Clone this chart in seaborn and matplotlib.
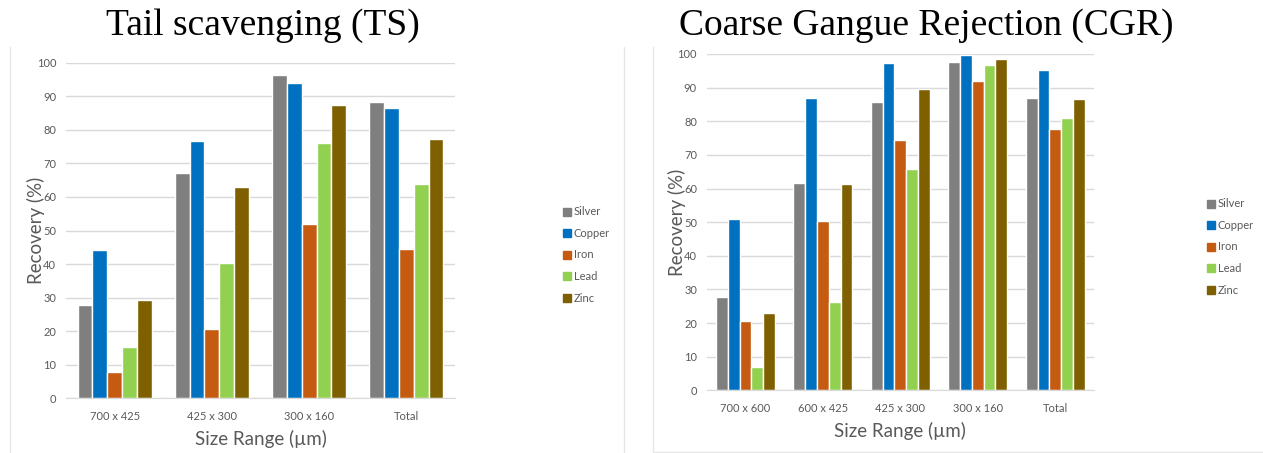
import numpy as np
import pandas as pd
import matplotlib
matplotlib.use('Agg')
import matplotlib.pyplot as plt
from matplotlib.lines import Line2D
import seaborn as sns

metals = ['Silver', 'Copper', 'Iron', 'Lead', 'Zinc']
colors = ['#7F7F7F', '#0070C0', '#C55A11', '#92D050', '#7F6000']

ts_sizes = ['700 x 425', '425 x 300', '300 x 160', 'Total']
ts_silver = [27.7, 67.1, 96.2, 88.2]
ts_copper = [44.2, 76.8, 94.1, 86.5]
ts_iron = [7.7, 20.6, 51.9, 44.5]
ts_lead = [15.2, 40.3, 76.2, 64.0]
ts_zinc = [29.4, 62.9, 87.3, 77.4]

cgr_sizes = ['700 x 600', '600 x 425', '425 x 300', '300 x 160', 'Total']
cgr_silver = [27.7, 61.5, 85.7, 97.6, 87.0]
cgr_copper = [51.0, 86.8, 97.2, 99.6, 95.2]
cgr_iron = [20.7, 50.2, 74.5, 91.9, 77.6]
cgr_lead = [6.8, 26.3, 65.9, 96.7, 81.0]
cgr_zinc = [22.9, 61.3, 89.6, 98.6, 86.7]


def to_long(sizes, series):
    rows = []
    for metal, vals in zip(metals, series):
        for s, v in zip(sizes, vals):
            rows.append({'size': s, 'metal': metal, 'recovery': v})
    return pd.DataFrame(rows)


ts_df = to_long(ts_sizes, [ts_silver, ts_copper, ts_iron, ts_lead, ts_zinc])
cgr_df = to_long(cgr_sizes, [cgr_silver, cgr_copper, cgr_iron, cgr_lead, cgr_zinc])

sns.set_style('white')
plt.rcParams['font.family'] = ['Lato', 'DejaVu Sans']

W, H = 1263, 453
fig = plt.figure(figsize=(W / 100, H / 100), dpi=100)


def px_axes(x0, x1, ytop, ybot):
    return fig.add_axes([x0 / W, 1 - ybot / H, (x1 - x0) / W, (ybot - ytop) / H])


text_gray = '#595959'
grid_gray = '#D9D9D9'


def draw(ax, df, sizes, leg_x, leg_y):
    sns.barplot(data=df, x='size', y='recovery', hue='metal', order=sizes,
                hue_order=metals, palette=colors, saturation=1, width=0.76,
                edgecolor='white', linewidth=1.0, ax=ax, legend=False)
    ax.set_ylim(0, 100)
    ax.set_xlim(-0.5, len(sizes) - 0.5)
    ax.set_yticks(np.arange(0, 101, 10))
    ax.yaxis.grid(True, color=grid_gray, linewidth=1)
    ax.set_axisbelow(True)
    for s in ['top', 'right', 'left']:
        ax.spines[s].set_visible(False)
    ax.spines['bottom'].set_color(grid_gray)
    ax.tick_params(axis='both', length=0, labelsize=8, labelcolor=text_gray)
    ax.tick_params(axis='x', pad=9)
    ax.tick_params(axis='y', pad=7)
    ax.set_xlabel('Size Range (µm)', fontsize=13.5, color=text_gray, labelpad=6)
    ax.set_ylabel('Recovery (%)', fontsize=13.5, color=text_gray, labelpad=-6)
    handles = [Line2D([0], [0], marker='s', linestyle='', markersize=6,
                      markerfacecolor=c, markeredgecolor=c) for c in colors]
    ax.legend(handles, metals, loc='center left',
              bbox_to_anchor=(leg_x / W, 1 - leg_y / H),
              bbox_transform=fig.transFigure, frameon=False, fontsize=8,
              labelcolor=text_gray, handlelength=0.6, handletextpad=0.3,
              labelspacing=0.95, borderpad=0, borderaxespad=0)


ax1 = px_axes(66, 455, 62.7, 398.3)
draw(ax1, ts_df, ts_sizes, 564, 255)
ax2 = px_axes(706.7, 1094, 54, 390.3)
draw(ax2, cgr_df, cgr_sizes, 1208, 247)

# faint panel borders
border = '#E6E6E6'
fig.add_artist(Line2D([10 / W, 10 / W], [0, 1 - 47 / H], color=border, lw=1))
fig.add_artist(Line2D([624 / W, 624 / W], [0, 1 - 47 / H], color=border, lw=1))
fig.add_artist(Line2D([653 / W, 653 / W], [1 / H, 1 - 47 / H], color=border, lw=1))
fig.add_artist(Line2D([653 / W, 1], [1 / H, 1 / H], color=border, lw=1))

fig.text(263 / W, 1 - 26 / H, 'Tail scavenging (TS)', ha='center', va='center',
         fontsize=27, family='Liberation Serif', color='black')
fig.text(926 / W, 1 - 26 / H, 'Coarse Gangue Rejection (CGR)', ha='center',
         va='center', fontsize=27, family='Liberation Serif', color='black')

fig.savefig('out.png', dpi=100, facecolor='white')
